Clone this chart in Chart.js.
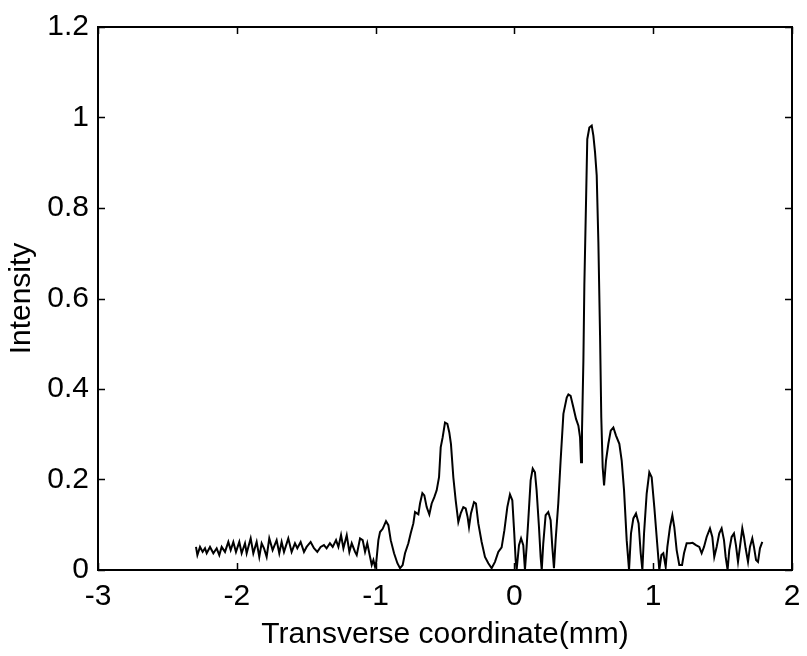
<!DOCTYPE html>
<html>
<head>
<meta charset="utf-8">
<script src="https://cdn.jsdelivr.net/npm/chart.js@4"></script>
<style>
  html, body { margin: 0; padding: 0; background: #fff; }
  #wrap { width: 807px; height: 656px; }
</style>
</head>
<body>
<div id="wrap"><canvas id="profileChart"></canvas></div>
<script>
// transverse position (mm)
const xValues = [
  -2.294, -2.284, -2.265, -2.246, -2.229, -2.217, -2.193, -2.169, -2.145, -2.126,
  -2.109, -2.085, -2.061, -2.044, -2.025, -2.006, -1.982, -1.965, -1.941, -1.929,
  -1.900, -1.881, -1.857, -1.838, -1.821, -1.804, -1.785, -1.766, -1.742, -1.713,
  -1.694, -1.677, -1.660, -1.629, -1.605, -1.581, -1.564, -1.540, -1.516, -1.497,
  -1.468, -1.444, -1.420, -1.396, -1.372, -1.353, -1.329, -1.309, -1.285, -1.268,
  -1.249, -1.232, -1.208, -1.189, -1.172, -1.148, -1.136, -1.112, -1.093, -1.076,
  -1.060, -1.040, -1.028, -1.016, -1.004, -0.995, -0.980, -0.968, -0.949, -0.925,
  -0.908, -0.891, -0.867, -0.843, -0.824, -0.805, -0.788, -0.764, -0.747, -0.728,
  -0.716, -0.692, -0.680, -0.663, -0.649, -0.632, -0.613, -0.596, -0.577, -0.560,
  -0.543, -0.531, -0.517, -0.500, -0.483, -0.469, -0.457, -0.440, -0.423, -0.404,
  -0.387, -0.368, -0.351, -0.337, -0.327, -0.313, -0.291, -0.277, -0.260, -0.236,
  -0.212, -0.188, -0.164, -0.140, -0.116, -0.092, -0.072, -0.051, -0.032, -0.015,
  -0.001, 0.009, 0.016, 0.033, 0.048, 0.064, 0.076, 0.088, 0.100, 0.117,
  0.132, 0.148, 0.160, 0.177, 0.189, 0.197, 0.208, 0.225, 0.244, 0.261,
  0.273, 0.285, 0.297, 0.316, 0.333, 0.353, 0.377, 0.389, 0.405, 0.425,
  0.444, 0.461, 0.473, 0.480, 0.487, 0.497, 0.504, 0.516, 0.525, 0.540,
  0.557, 0.569, 0.581, 0.593, 0.605, 0.617, 0.626, 0.636, 0.646, 0.660,
  0.677, 0.694, 0.713, 0.732, 0.756, 0.773, 0.790, 0.809, 0.826, 0.840,
  0.857, 0.876, 0.895, 0.910, 0.922, 0.934, 0.953, 0.972, 0.989, 1.008,
  1.025, 1.044, 1.059, 1.073, 1.090, 1.102, 1.121, 1.138, 1.152, 1.169,
  1.188, 1.208, 1.222, 1.241, 1.265, 1.284, 1.308, 1.332, 1.349, 1.366,
  1.385, 1.409, 1.426, 1.440, 1.457, 1.476, 1.493, 1.510, 1.522, 1.536,
  1.548, 1.565, 1.582, 1.596, 1.611, 1.625, 1.642, 1.654, 1.666, 1.683,
  1.697, 1.714, 1.726, 1.741, 1.755, 1.769, 1.786
];

// normalised intensity
const intensity = [
  0.051, 0.033, 0.051, 0.040, 0.048, 0.037, 0.051, 0.037, 0.048, 0.033,
  0.051, 0.040, 0.062, 0.044, 0.062, 0.040, 0.062, 0.037, 0.059, 0.037,
  0.070, 0.037, 0.062, 0.029, 0.059, 0.048, 0.029, 0.070, 0.044, 0.066,
  0.037, 0.062, 0.040, 0.070, 0.040, 0.059, 0.048, 0.062, 0.040, 0.051,
  0.062, 0.048, 0.040, 0.051, 0.055, 0.048, 0.059, 0.051, 0.066, 0.051,
  0.077, 0.048, 0.077, 0.040, 0.059, 0.040, 0.033, 0.070, 0.066, 0.040,
  0.059, 0.029, 0.011, 0.022, 0.007, 0.018, 0.066, 0.084, 0.091, 0.108,
  0.099, 0.066, 0.037, 0.015, 0.004, 0.011, 0.037, 0.059, 0.081, 0.103,
  0.128, 0.123, 0.147, 0.170, 0.165, 0.139, 0.123, 0.147, 0.161, 0.176,
  0.205, 0.271, 0.293, 0.326, 0.323, 0.304, 0.278, 0.205, 0.154, 0.106,
  0.125, 0.139, 0.136, 0.117, 0.095, 0.125, 0.150, 0.147, 0.103, 0.062,
  0.029, 0.015, 0.004, 0.018, 0.040, 0.050, 0.088, 0.139, 0.167, 0.154,
  0.081, 0.022, 0.000, 0.055, 0.070, 0.055, 0.000, 0.051, 0.110, 0.198,
  0.224, 0.216, 0.176, 0.095, 0.029, 0.000, 0.059, 0.121, 0.128, 0.110,
  0.051, 0.004, 0.066, 0.147, 0.242, 0.345, 0.381, 0.388, 0.385, 0.359,
  0.334, 0.319, 0.293, 0.238, 0.308, 0.462, 0.630, 0.813, 0.952, 0.978,
  0.982, 0.960, 0.923, 0.872, 0.725, 0.520, 0.337, 0.227, 0.187, 0.242,
  0.279, 0.308, 0.315, 0.297, 0.279, 0.242, 0.176, 0.066, 0.000, 0.081,
  0.114, 0.125, 0.103, 0.037, 0.000, 0.081, 0.169, 0.216, 0.205, 0.139,
  0.073, 0.000, 0.033, 0.037, 0.007, 0.051, 0.095, 0.121, 0.095, 0.044,
  0.011, 0.011, 0.037, 0.059, 0.059, 0.060, 0.055, 0.051, 0.037, 0.051,
  0.073, 0.092, 0.073, 0.029, 0.051, 0.081, 0.092, 0.066, 0.029, 0.000,
  0.044, 0.073, 0.081, 0.055, 0.018, 0.051, 0.092, 0.073, 0.048, 0.018,
  0.051, 0.070, 0.051, 0.022, 0.018, 0.048, 0.062
];

const xTicks = [-3, -2, -1, 0, 1, 2];
const yTicks = [0, 0.2, 0.4, 0.6, 0.8, 1, 1.2];

const points = xValues.map((x, i) => ({ x: x, y: intensity[i] }));

// MATLAB-style box with inward ticks on all four sides
const boxTicks = {
  id: "boxTicks",
  afterDraw(chart) {
    const { ctx, chartArea: a, scales } = chart;
    const len = 7;
    ctx.save();
    ctx.strokeStyle = "#000";
    ctx.lineWidth = 1.5;
    ctx.beginPath();
    xTicks.forEach(v => {
      const px = Math.round(scales.x.getPixelForValue(v)) + 0.5;
      ctx.moveTo(px, a.bottom); ctx.lineTo(px, a.bottom - len);
      ctx.moveTo(px, a.top); ctx.lineTo(px, a.top + len);
    });
    yTicks.forEach(v => {
      const py = Math.round(scales.y.getPixelForValue(v)) + 0.5;
      ctx.moveTo(a.left, py); ctx.lineTo(a.left + len, py);
      ctx.moveTo(a.right, py); ctx.lineTo(a.right - len, py);
    });
    ctx.stroke();
    ctx.lineWidth = 2;
    ctx.strokeRect(a.left, a.top, a.right - a.left, a.bottom - a.top);
    ctx.restore();
  }
};

const font = { family: "'Liberation Sans', Arial, sans-serif", size: 30 };

new Chart(document.getElementById("profileChart"), {
  type: "line",
  data: {
    datasets: [{
      label: "Intensity",
      data: points,
      borderColor: "#000",
      borderWidth: 2,
      pointRadius: 0,
      fill: false,
      tension: 0
    }]
  },
  options: {
    responsive: true,
    maintainAspectRatio: false,
    animation: false,
    layout: { padding: { top: 24, right: 15, left: 0, bottom: 0 } },
    plugins: { legend: { display: false }, tooltip: { enabled: false } },
    scales: {
      x: {
        type: "linear",
        min: -3,
        max: 2,
        afterBuildTicks: s => { s.ticks = xTicks.map(v => ({ value: v })); },
        afterFit: s => { s.height = 86; s.paddingLeft = 0; s.paddingRight = 0; },
        grid: { display: false, drawTicks: false },
        border: { display: false },
        ticks: { color: "#000", font: font, padding: 9, maxRotation: 0, callback: v => String(v) },
        title: {
          display: true,
          text: "Transverse coordinate(mm)",
          color: "#000",
          font: font,
          padding: { top: 0, bottom: 3 }
        }
      },
      y: {
        type: "linear",
        min: 0,
        max: 1.2,
        afterBuildTicks: s => { s.ticks = yTicks.map(v => ({ value: v })); },
        afterFit: s => { s.width = 98; },
        grid: { display: false, drawTicks: false },
        border: { display: false },
        ticks: { color: "#000", font: font, padding: 9, callback: v => String(v) },
        title: {
          display: true,
          text: "Intensity",
          color: "#000",
          font: font,
          padding: { top: 4, bottom: 0 }
        }
      }
    }
  },
  plugins: [boxTicks]
});
</script>
</body>
</html>
